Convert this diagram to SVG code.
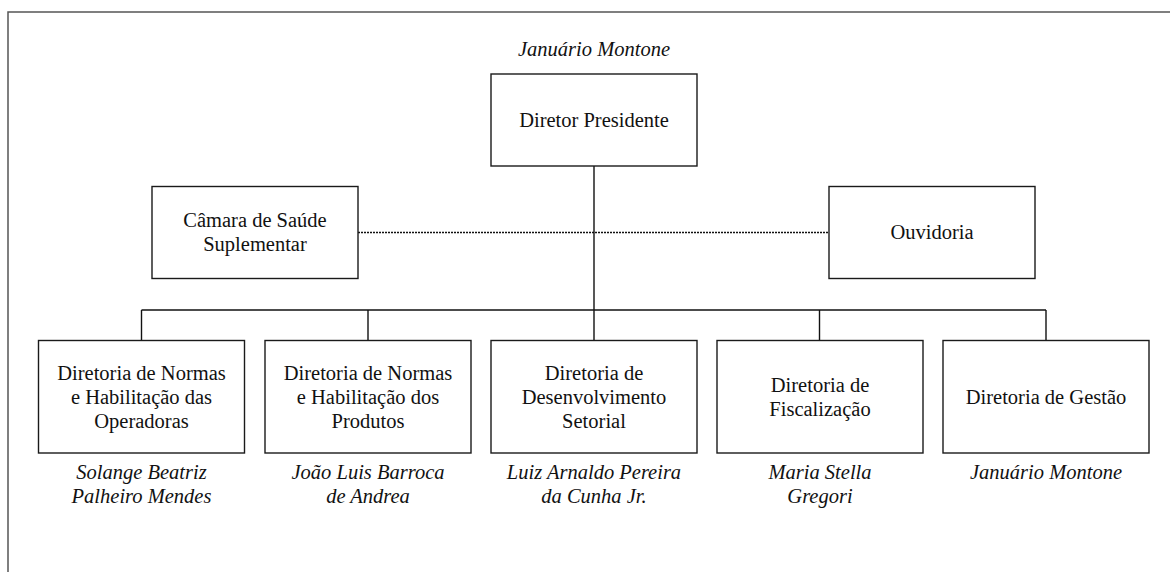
<svg xmlns="http://www.w3.org/2000/svg" width="1170" height="572" viewBox="0 0 1170 572">
<style>
.box{fill:#fff;stroke:#1a1a1a;stroke-width:1.4}
.t{font-family:"Liberation Serif","Times New Roman",serif;font-size:20.5px;fill:#111;text-anchor:middle}
.n{font-family:"Liberation Serif","Times New Roman",serif;font-size:20.5px;font-style:italic;fill:#111;text-anchor:middle}
.ln{stroke:#111;stroke-width:1.4;fill:none}
.dot{stroke:#111;stroke-width:1.5;fill:none;stroke-dasharray:2 1}
.frame{stroke:#555;stroke-width:1.5;fill:none}
</style>
<rect width="1170" height="572" fill="#fff"/>
<path class="frame" d="M8,572 L8,12 L1170,12"/>
<g id="connectors">
<line class="dot" x1="358" y1="232.5" x2="829" y2="232.5"/>
<line class="ln" x1="594" y1="166" x2="594" y2="340"/>
<line class="ln" x1="141.5" y1="310" x2="1046" y2="310"/>
<line class="ln" x1="141.5" y1="310" x2="141.5" y2="340"/>
<line class="ln" x1="368" y1="310" x2="368" y2="340"/>
<line class="ln" x1="819.5" y1="310" x2="819.5" y2="340"/>
<line class="ln" x1="1046" y1="310" x2="1046" y2="340"/>
</g>
<g id="presidente">
<text class="n" x="594" y="56">Januário Montone</text>
<rect class="box" x="491" y="74" width="206" height="92"/>
<text class="t" x="594" y="127">Diretor Presidente</text>
</g>
<g id="camara">
<rect class="box" x="152" y="186.5" width="206" height="92"/>
<text class="t" x="255" y="227">Câmara de Saúde</text>
<text class="t" x="255" y="251">Suplementar</text>
</g>
<g id="ouvidoria">
<rect class="box" x="829" y="186.5" width="206" height="92"/>
<text class="t" x="932" y="239">Ouvidoria</text>
</g>
<g id="dir-operadoras">
<rect class="box" x="38.5" y="340.5" width="206" height="112.5"/>
<text class="t" x="141.5" y="380">Diretoria de Normas</text>
<text class="t" x="141.5" y="404">e Habilitação das</text>
<text class="t" x="141.5" y="428">Operadoras</text>
<text class="n" x="141.5" y="479">Solange Beatriz</text>
<text class="n" x="141.5" y="503">Palheiro Mendes</text>
</g>
<g id="dir-produtos">
<rect class="box" x="265" y="340.5" width="206" height="112.5"/>
<text class="t" x="368" y="380">Diretoria de Normas</text>
<text class="t" x="368" y="404">e Habilitação dos</text>
<text class="t" x="368" y="428">Produtos</text>
<text class="n" x="368" y="479">João Luis Barroca</text>
<text class="n" x="368" y="503">de Andrea</text>
</g>
<g id="dir-desenvolvimento">
<rect class="box" x="491" y="340.5" width="206" height="112.5"/>
<text class="t" x="594" y="380">Diretoria de</text>
<text class="t" x="594" y="404">Desenvolvimento</text>
<text class="t" x="594" y="428">Setorial</text>
<text class="n" x="594" y="479">Luiz Arnaldo Pereira</text>
<text class="n" x="594" y="503">da Cunha Jr.</text>
</g>
<g id="dir-fiscalizacao">
<rect class="box" x="717" y="340.5" width="206" height="112.5"/>
<text class="t" x="820" y="392">Diretoria de</text>
<text class="t" x="820" y="416">Fiscalização</text>
<text class="n" x="820" y="479">Maria Stella</text>
<text class="n" x="820" y="503">Gregori</text>
</g>
<g id="dir-gestao">
<rect class="box" x="943" y="340.5" width="206" height="112.5"/>
<text class="t" x="1046" y="404">Diretoria de Gestão</text>
<text class="n" x="1046" y="479">Januário Montone</text>
</g>
</svg>
